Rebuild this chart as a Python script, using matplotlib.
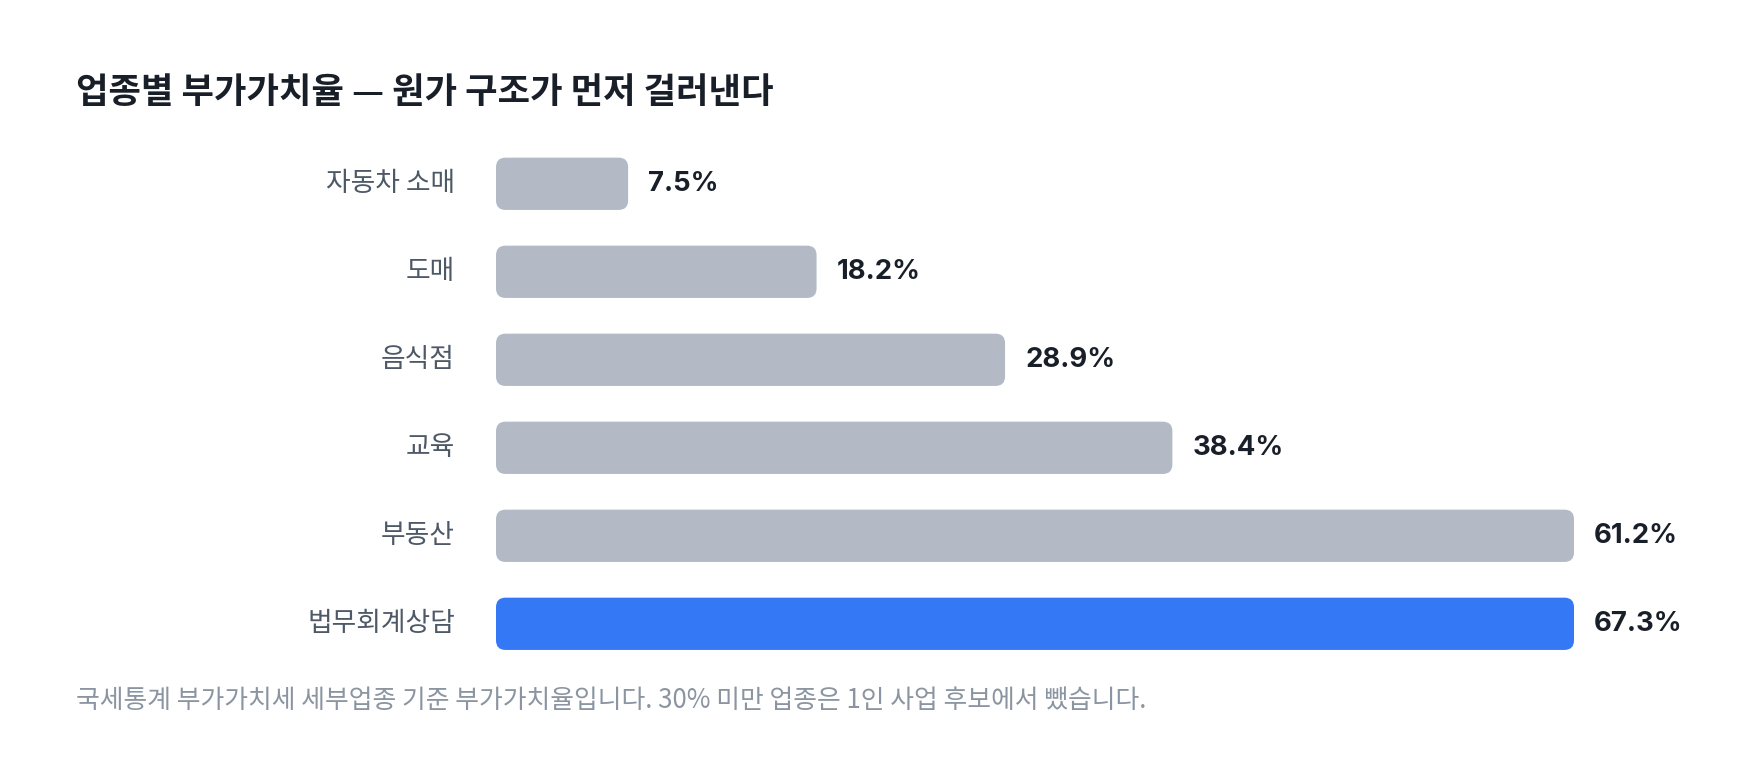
import numpy as np
import matplotlib
matplotlib.use("Agg")
import matplotlib.pyplot as plt
import matplotlib.patches as patches

plt.rcParams['font.family'] = ['Noto Sans CJK KR', 'DejaVu Sans']

# Data
categories = ["자동차 소매", "도매", "음식점", "교육", "부동산", "법무회계상담"]
values = [7.5, 18.2, 28.9, 38.4, 61.2, 67.3]
highlight = "법무회계상담"
x_max = 61.2  # axis domain, longer bars are clamped to it

title = "업종별 부가가치율 — 원가 구조가 먼저 걸러낸다"
note = "국세통계 부가가치세 세부업종 기준 부가가치율입니다. 30% 미만 업종은 1인 사업 후보에서 뺐습니다."

# Colors
grey = "#b3bac5"
blue = "#3478f6"
label_color = "#4e5968"
value_color = "#191f28"
note_color = "#8b95a1"

W, H = 1760, 784
fig = plt.figure(figsize=(W / 100, H / 100), dpi=100)
fig.patch.set_facecolor("white")

# axes placed in pixels
ax_left, ax_right = 496, 1574
ax_top, ax_bottom = 139.8, 667.8
ax = fig.add_axes([ax_left / W, 1 - ax_bottom / H,
                   (ax_right - ax_left) / W, (ax_bottom - ax_top) / H])
ax.set_xlim(0, x_max)
ax.set_ylim(len(categories) - 0.5, -0.5)
ax.axis("off")

bar_h = 0.594
px_x = (ax_right - ax_left) / x_max
px_y = (ax_bottom - ax_top) / len(categories)
aspect = px_x / px_y
radius = 9.5 / px_x

for i, (cat, v) in enumerate(zip(categories, values)):
    w = min(v, x_max)
    color = blue if cat == highlight else grey
    bar = patches.FancyBboxPatch((0, i - bar_h / 2), w, bar_h,
                                 boxstyle=f"round,pad=0,rounding_size={radius}",
                                 mutation_aspect=aspect,
                                 facecolor=color, edgecolor="none", clip_on=False)
    ax.add_patch(bar)
    ax.text(w + 20 / px_x, i, f"{v:.1f}%", ha="left", va="center",
            fontsize=19.8, fontweight="bold", color=value_color,
            family=["Inter", "DejaVu Sans"])
    ax.text(-41 / px_x, i, cat, ha="right", va="center",
            fontsize=19.3, color=label_color)

fig.text(76 / W, 1 - 92 / H, title, ha="left", va="center",
         fontsize=25.4, fontweight="bold", color=value_color)
fig.text(76 / W, 1 - 701 / H, note, ha="left", va="center",
         fontsize=18.6, color=note_color)

fig.savefig("out.png", dpi=100, facecolor="white")
